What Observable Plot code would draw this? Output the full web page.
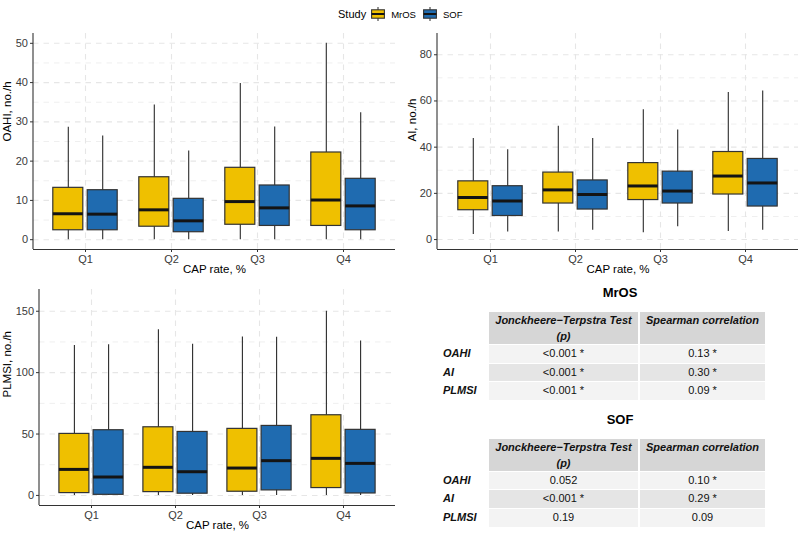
<!DOCTYPE html>
<html><head><meta charset="utf-8">
<script src="https://cdn.jsdelivr.net/npm/d3@7"></script>
<script src="https://cdn.jsdelivr.net/npm/@observablehq/plot@0.6"></script>
<style>
body{margin:0;background:#fff;font-family:"Liberation Sans",Arial,Helvetica,sans-serif;}
#root{position:relative;width:800px;height:534px;overflow:hidden;background:#fff;}
#root svg g[aria-label$="tick label"]{font-size:11px;font-family:"Liberation Sans",Arial,sans-serif;}
.legend{position:absolute;left:338px;top:0;height:28px;display:flex;align-items:center;color:#000;}
.legend .ttl{font-size:11px;margin-right:5px;}
.legend .lab{font-size:9.5px;margin-left:6px;margin-right:7px;}
.legend svg{display:block;}
.tblTitle{position:absolute;width:120px;text-align:center;font-weight:bold;font-size:13px;color:#000;line-height:16px;}
.tbl{position:absolute;display:grid;grid-template-columns:44px 149px 125px;column-gap:2px;row-gap:1px;font-size:11px;color:#111;}
.tbl div{box-sizing:border-box;}
.hd{background:#d6d6d6;font-weight:bold;font-style:italic;text-align:center;line-height:16px;height:32px;white-space:pre;}
.rl{font-weight:bold;font-style:italic;text-align:left;line-height:17.7px;height:17.7px;}
.c{text-align:center;line-height:17.7px;height:17.7px;}
.odd{background:#f3f3f3;}
.even{background:#e5e5e5;}
</style></head><body><div id="root"></div>
<script>
// ---------- data ----------
const quartiles = ["Q1","Q2","Q3","Q4"];
const studies = ["MrOS","SOF"];
const studyColors = ["#EFC000","#1F6BB0"];
const xTitle = "CAP rate, %";
// each entry: [lower whisker, Q1, median, Q3, upper whisker] for CAP-rate quartile Q1..Q4
const oahiMrOS = [[0,2.4,6.6,13.2,28.6],[0,3.3,7.6,15.9,34.3],[0,3.8,9.7,18.3,39.8],[0,3.5,10.1,22.2,50.0]];
const oahiSOF  = [[0,2.4,6.5,12.6,26.4],[0,1.9,4.8,10.4,22.6],[0,3.5,8.1,13.8,28.7],[0,2.4,8.6,15.5,32.3]];
const aiMrOS   = [[2.2,12.7,18.2,25.2,43.8],[3.3,15.6,21.5,29.0,49.1],[3.0,17.1,23.2,33.1,56.2],[3.5,19.5,27.5,37.9,63.7]];
const aiSOF    = [[3.3,10.2,16.7,23.1,38.9],[4.0,13.0,19.5,25.6,43.8],[5.5,15.6,21.0,29.4,47.4],[4.0,14.3,24.5,34.9,64.3]];
const plmsiMrOS = [[0,1.9,21.2,50.1,122.0],[0,2.7,22.9,55.5,135.0],[0,3.0,22.3,54.2,129.0],[0,6.0,30.2,65.3,150.0]];
const plmsiSOF  = [[0,0.5,15.0,53.1,122.8],[0,1.4,19.3,51.7,123.1],[0,4.1,28.3,56.6,128.8],[0,1.6,26.1,53.4,125.8]];
// axis ticks
const oahiTicks = [0,10,20,30,40,50];
const oahiMinor = [5,15,25,35,45];
const aiTicks = [0,20,40,60,80];
const aiMinor = [10,30,50,70];
const plmsiTicks = [0,50,100,150];
const plmsiMinor = [25,75,125];
// tables
const tableColumns = ["Jonckheere\u2212Terpstra Test\n(p)", "Spearman correlation"];
const tableRows = ["OAHI","AI","PLMSI"];
const mrosJT = ["<0.001 *","<0.001 *","<0.001 *"];
const mrosSpearman = ["0.13 *","0.30 *","0.09 *"];
const sofJT = ["0.052","<0.001 *","0.19"];
const sofSpearman = ["0.10 *","0.29 *","0.09"];

// ---------- helpers ----------
const root = document.getElementById("root");
function toRows(arr, study){
  return quartiles.map((q,i)=>({q, study, lo:arr[i][0], q1:arr[i][1], med:arr[i][2], q3:arr[i][3], hi:arr[i][4]}));
}
const gridStyle = {stroke:"#e6e6e6", strokeOpacity:1, strokeWidth:1.1, strokeDasharray:"5.5,5"};
const minorStyle = {stroke:"#efefef", strokeOpacity:1, strokeWidth:1, strokeDasharray:"5.5,5"};

function boxPanel(o){
  const fw = o.width - o.ml - o.mr;
  const step = fw / 4.2;
  const pin = 1 - o.boxW / step;
  const pout = (0.2 + pin) / 2;
  const sets = [toRows(o.mros, studies[0]), toRows(o.sof, studies[1])];
  const marks = [
    Plot.gridY(o.minor, minorStyle),
    Plot.gridY(o.ticks, gridStyle),
    Plot.gridX(quartiles, gridStyle),
  ];
  sets.forEach((rows, k) => {
    const dx = (k === 0 ? -1 : 1) * o.dodge;
    marks.push(Plot.ruleX(rows, {x:"q", y1:"lo", y2:"hi", stroke:"#2b2b2b", strokeWidth:1.1, dx}));
    marks.push(Plot.barY(rows, {x:"q", y1:"q1", y2:"q3", fill:studyColors[k], stroke:"#333", strokeWidth:1.2, dx}));
    marks.push(Plot.tickY(rows, {x:"q", y:"med", stroke:"#141414", strokeWidth:3, dx}));
  });
  marks.push(Plot.ruleY([o.yDomain[0]], {stroke:"#333", strokeWidth:1.1}));
  marks.push(Plot.axisY(o.ticks, {tickSize:3, tickPadding:2.5, fontSize:11, stroke:"#333", fill:"#3a3a3a", label:null}));
  marks.push(Plot.axisX({tickSize:3, tickPadding:3, fontSize:11, stroke:"#333", fill:"#3a3a3a", label:null}));
  marks.push(Plot.text([o.yLabel], {text:d=>d, frameAnchor:"left", rotate:-90, dx:o.titleDx, fontSize:11.5, fill:"#000"}));
  marks.push(Plot.text([xTitle], {text:d=>d, frameAnchor:"bottom", dy:23, fontSize:11.5, fill:"#000"}));
  const svg = Plot.plot({
    width:o.width, height:o.height,
    marginLeft:o.ml, marginRight:o.mr, marginTop:o.mt, marginBottom:o.mb,
    x:{type:"band", domain:quartiles, paddingInner:pin, paddingOuter:pout, align:0.5},
    y:{domain:o.yDomain},
    style:{fontFamily:"'Liberation Sans', Arial, sans-serif", fontSize:"11px", background:"transparent", overflow:"visible"},
    marks
  });
  d3.select(svg).append("line")
    .attr("x1", o.ml).attr("x2", o.ml).attr("y1", o.mt).attr("y2", o.height - o.mb)
    .attr("stroke", "#333").attr("stroke-width", 1.1);
  svg.style.position = "absolute";
  svg.style.left = o.left + "px";
  svg.style.top = o.top + "px";
  root.appendChild(svg);
}

boxPanel({mros:oahiMrOS, sof:oahiSOF, ticks:oahiTicks, minor:oahiMinor, yDomain:[-2.5,52.5],
  yLabel:"OAHI, no./h", left:0, top:30, width:400, height:250, ml:33, mr:5, mt:3, mb:31,
  titleDx:-26, boxW:30.5, dodge:17.2});
boxPanel({mros:aiMrOS, sof:aiSOF, ticks:aiTicks, minor:aiMinor, yDomain:[-4.3,89.2],
  yLabel:"AI, no./h", left:400, top:30, width:400, height:250, ml:37, mr:2, mt:3, mb:31,
  titleDx:-25, boxW:30.5, dodge:17.2});
boxPanel({mros:plmsiMrOS, sof:plmsiSOF, ticks:plmsiTicks, minor:plmsiMinor, yDomain:[-8.2,167.7],
  yLabel:"PLMSI, no./h", left:0, top:285, width:400, height:249, ml:39, mr:5, mt:4, mb:29,
  titleDx:-32, boxW:30, dodge:17.1});

// ---------- legend ----------
const lg = document.createElement("div");
lg.className = "legend";
const ttl = document.createElement("span"); ttl.className = "ttl"; ttl.textContent = "Study"; lg.appendChild(ttl);
studies.forEach((s,k)=>{
  const g = d3.create("svg").attr("width",14).attr("height",14);
  g.append("line").attr("x1",7).attr("x2",7).attr("y1",0).attr("y2",14).attr("stroke","#2b2b2b").attr("stroke-width",1);
  g.append("rect").attr("x",0.6).attr("y",2.8).attr("width",12.8).attr("height",8.4)
    .attr("fill",studyColors[k]).attr("stroke","#333").attr("stroke-width",1.1);
  g.append("line").attr("x1",0.6).attr("x2",13.4).attr("y1",7).attr("y2",7).attr("stroke","#141414").attr("stroke-width",2);
  lg.appendChild(g.node());
  const lab = document.createElement("span"); lab.className = "lab"; lab.textContent = s;
  if (k === studies.length-1) lab.style.marginRight = "0";
  lg.appendChild(lab);
});
root.appendChild(lg);

// ---------- tables ----------
function makeTable(title, jt, sp, top){
  const t = document.createElement("div");
  t.className = "tblTitle"; t.textContent = title;
  t.style.left = "560px"; t.style.top = (top - 27) + "px";
  root.appendChild(t);
  const g = document.createElement("div");
  g.className = "tbl"; g.style.left = "443px"; g.style.top = top + "px";
  const blank = document.createElement("div"); g.appendChild(blank);
  tableColumns.forEach(c=>{ const d=document.createElement("div"); d.className="hd"; d.textContent=c; g.appendChild(d); });
  tableRows.forEach((r,i)=>{
    const cls = i % 2 === 0 ? "odd" : "even";
    const a=document.createElement("div"); a.className="rl"; a.textContent=r; g.appendChild(a);
    const b=document.createElement("div"); b.className="c "+cls; b.textContent=jt[i]; g.appendChild(b);
    const c=document.createElement("div"); c.className="c "+cls; c.textContent=sp[i]; g.appendChild(c);
  });
  root.appendChild(g);
}
makeTable("MrOS", mrosJT, mrosSpearman, 312);
makeTable("SOF", sofJT, sofSpearman, 438.5);
</script></body></html>
